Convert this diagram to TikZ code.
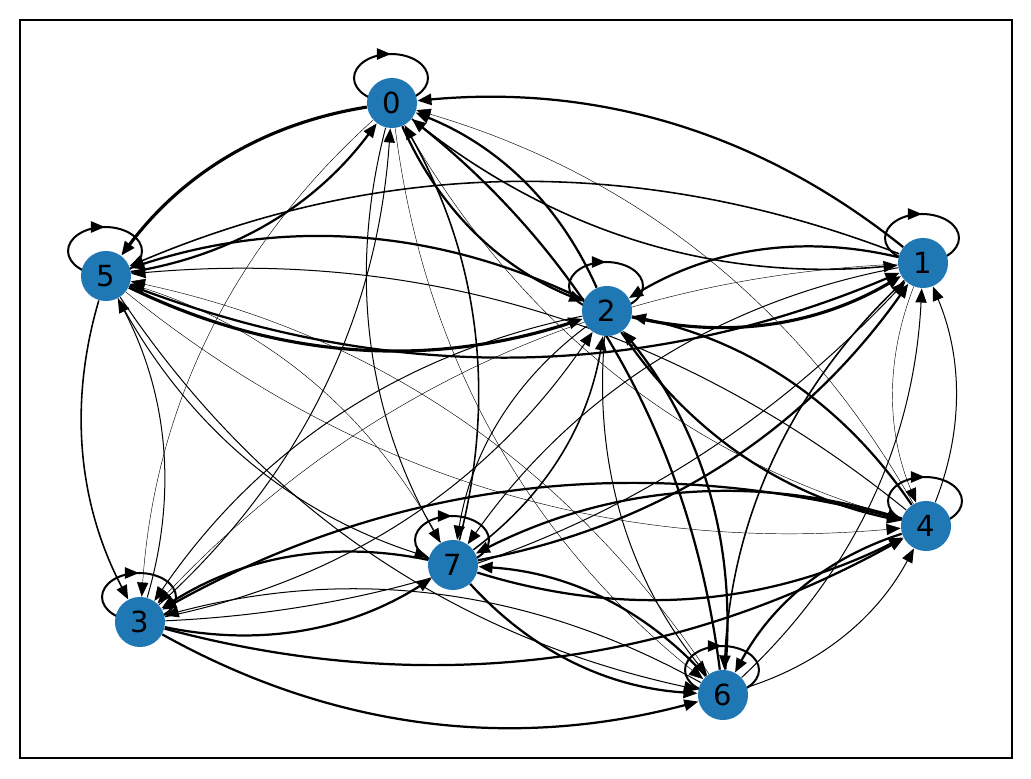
\documentclass[tikz,border=0pt]{standalone}
\usepackage{fontspec}
\setmainfont{DejaVu Sans}
\usepackage{tikz}
\usetikzlibrary{arrows.meta, backgrounds, calc, decorations.markings}
\definecolor{nodeblue}{HTML}{1F77B4}
\tikzstyle{vertex} = [circle, fill=nodeblue, minimum size=22.4pt, inner sep=0pt, font=\fontsize{13}{15}\selectfont]
\tikzstyle{arc} = [-{Triangle[length=6.3pt,width=5pt]}, bend right=22, looseness=0.92]
\tikzstyle{selfloop} = [line width=0.9pt, postaction={decorate, decoration={markings, mark=at position 0.75 with {\arrow{Triangle[length=6.3pt,width=5pt]}}}}]
\tikzstyle{w0} = [line width=0.2pt]
\tikzstyle{w1} = [line width=0.45pt]
\tikzstyle{w2} = [line width=0.7pt]
\tikzstyle{w3} = [line width=1pt]
\tikzstyle{w4} = [line width=1.4pt]

\begin{document}
\begin{tikzpicture}[x=0.4472pt, y=-0.4472pt]
  \useasboundingbox (0,0) rectangle (1031,779);
  \draw[line width=0.8pt] (20,20) rectangle (1012,758);

  \node (n0) [vertex] at (392,103) {0};
  \node (n1) [vertex] at (923,263) {1};
  \node (n2) [vertex] at (607,311) {2};
  \node (n3) [vertex] at (140,622) {3};
  \node (n4) [vertex] at (926,526) {4};
  \node (n5) [vertex] at (106,276) {5};
  \node (n6) [vertex] at (723,695) {6};
  \node (n7) [vertex] at (453,565) {7};

  \begin{scope}[on background layer]
  % self loops
  \foreach \n in {n0,n1,n2,n3,n4,n5,n6,n7}
    \draw[selfloop] ($(\n)+(-1,-25)$) ellipse [x radius=37, y radius=24];

  % edges out of 0
  \draw[arc, w2] (n0) to (n1);
  \draw[arc, w3] (n0) to (n2);
  \draw[arc, w0] (n0) to (n3);
  \draw[arc, w0] (n0) to (n4);
  \draw[arc, w4] (n0) to (n5);
  \draw[arc, w0] (n0) to (n6);
  \draw[arc, w1] (n0) to (n7);
  % edges out of 1
  \draw[arc, w3] (n1) to (n0);
  \draw[arc, w3] (n1) to (n2);
  \draw[arc, w0] (n1) to (n3);
  \draw[arc, w0] (n1) to (n4);
  \draw[arc, w2] (n1) to (n5);
  \draw[arc, w2] (n1) to (n6);
  \draw[arc, w1] (n1) to (n7);
  % edges out of 2
  \draw[arc, w3] (n2) to (n0);
  \draw[arc, w4] (n2) to (n1);
  \draw[arc, w1] (n2) to (n3);
  \draw[arc, w3] (n2) to (n4);
  \draw[arc, w3] (n2) to (n5);
  \draw[arc, w1] (n2) to (n6);
  \draw[arc, w1] (n2) to (n7);
  % edges out of 3
  \draw[arc, w1] (n3) to (n0);
  \draw[arc, w1] (n3) to (n1);
  \draw[arc, w1] (n3) to (n2);
  \draw[arc, w3] (n3) to (n4);
  \draw[arc, w1] (n3) to (n5);
  \draw[arc, w3] (n3) to (n6);
  \draw[arc, w3] (n3) to (n7);
  % edges out of 4
  \draw[arc, w0] (n4) to (n0);
  \draw[arc, w1] (n4) to (n1);
  \draw[arc, w3] (n4) to (n2);
  \draw[arc, w3] (n4) to (n3);
  \draw[arc, w1] (n4) to (n5);
  \draw[arc, w3] (n4) to (n6);
  \draw[arc, w3] (n4) to (n7);
  % edges out of 5
  \draw[arc, w3] (n5) to (n0);
  \draw[arc, w3] (n5) to (n1);
  \draw[arc, w4] (n5) to (n2);
  \draw[arc, w2] (n5) to (n3);
  \draw[arc, w0] (n5) to (n4);
  \draw[arc, w1] (n5) to (n6);
  \draw[arc, w1] (n5) to (n7);
  % edges out of 6
  \draw[arc, w3] (n6) to (n0);
  \draw[arc, w1] (n6) to (n1);
  \draw[arc, w3] (n6) to (n2);
  \draw[arc, w1] (n6) to (n3);
  \draw[arc, w1] (n6) to (n4);
  \draw[arc, w0] (n6) to (n5);
  \draw[arc, w3] (n6) to (n7);
  % edges out of 7
  \draw[arc, w2] (n7) to (n0);
  \draw[arc, w3] (n7) to (n1);
  \draw[arc, w2] (n7) to (n2);
  \draw[arc, w3] (n7) to (n3);
  \draw[arc, w3] (n7) to (n4);
  \draw[arc, w0] (n7) to (n5);
  \draw[arc, w3] (n7) to (n6);
  \end{scope}
\end{tikzpicture}
\end{document}
